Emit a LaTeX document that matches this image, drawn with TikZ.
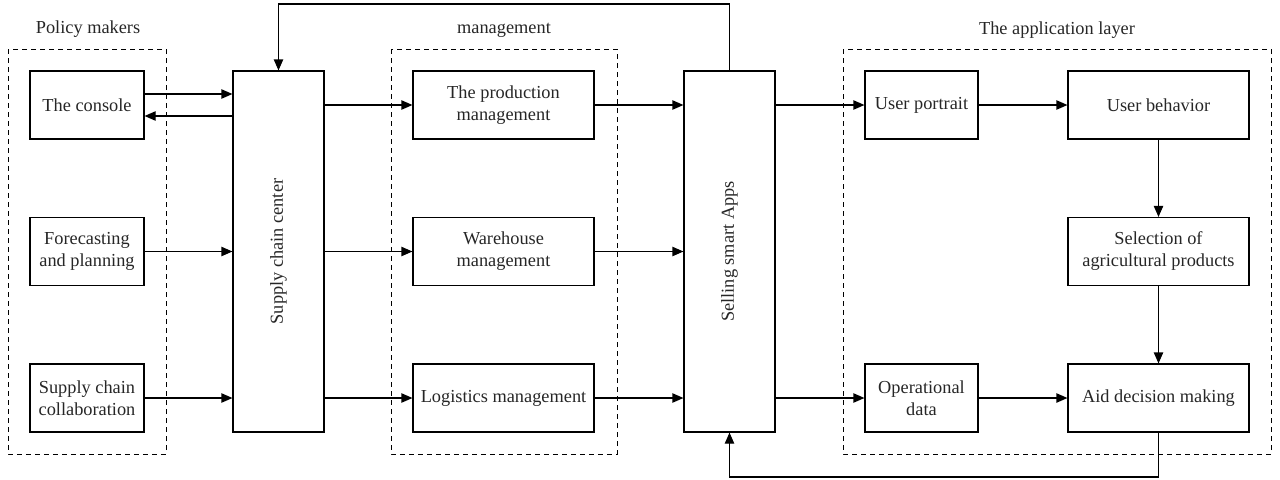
\documentclass[tikz,border=0pt]{standalone}
\usepackage{fontspec}
\setmainfont{Liberation Serif}
\usetikzlibrary{arrows.meta}

\begin{document}
\begin{tikzpicture}[x=0.6pt,y=-0.6pt,
  font=\fontsize{11}{13.2}\selectfont,
  box/.style={draw,line width=0.7pt,align=center,inner sep=1pt,text=black!85},
  group/.style={draw,dashed,dash pattern=on 3pt off 2.4pt,line width=0.6pt},
  title/.style={text=black!85},
  arr/.style={-{Triangle[length=6.6pt,width=5.6pt]},line width=0.7pt}]

\useasboundingbox (0,0) rectangle (1280,479);

% Groupes
\draw[group] (8,49) rectangle (166,454);
\draw[group] (391,49) rectangle (617,454);
\draw[group] (843,49) rectangle (1271,454);

\node[title] (tpolicy) at (88,29) {Policy makers};
\node[title] (tmanage) at (504,30) {management};
\node[title] (tapp) at (1057,30) {The application layer};

% Policy makers
\node[box,minimum width=68.4pt,minimum height=40.8pt]
(console)
at (87,105)
{The console};

\node[box,minimum width=68.4pt,minimum height=40.8pt]
(forecast)
at (87,251.5)
{Forecasting\\and planning};

\node[box,minimum width=68.4pt,minimum height=40.8pt]
(collab)
at (87,398)
{Supply chain\\collaboration};

% Centres (rotated: north = left side, south = right side)
\node[box,minimum width=216.6pt,minimum height=54.6pt,rotate=90]
(center)
at (278.5,251.5)
{Supply chain center};

\node[box,minimum width=216.6pt,minimum height=54.6pt,rotate=90]
(selling)
at (729.5,251.5)
{Selling smart Apps};

% Management
\node[box,minimum width=108.6pt,minimum height=40.8pt]
(production)
at (503.5,105)
{The production\\management};

\node[box,minimum width=108.6pt,minimum height=40.8pt]
(warehouse)
at (503.5,251.5)
{Warehouse\\management};

\node[box,minimum width=108.6pt,minimum height=40.8pt]
(logistics)
at (503.5,398)
{Logistics management};

% Application layer
\node[box,minimum width=67.8pt,minimum height=40.8pt]
(portrait)
at (921.5,105)
{User portrait};

\node[box,minimum width=67.8pt,minimum height=40.8pt]
(operational)
at (921.5,398)
{Operational\\data};

\node[box,minimum width=108.6pt,minimum height=40.8pt]
(behavior)
at (1158.5,105)
{User behavior};

\node[box,minimum width=108.6pt,minimum height=40.8pt]
(selection)
at (1158.5,251.5)
{Selection of\\agricultural products};

\node[box,minimum width=108.6pt,minimum height=40.8pt]
(aid)
at (1158.5,398)
{Aid decision making};

\coordinate (topline) at (0,4);
\coordinate (botline) at (0,477);

% Liaisons
\draw[arr] ([yshift=6.6pt]console.east) -- ([yshift=6.6pt]console.east -| center.north);
\draw[arr] ([yshift=-6.6pt]console.east -| center.north) -- ([yshift=-6.6pt]console.east);
\draw[arr] (forecast.east) -- (forecast.east -| center.north);
\draw[arr] (collab.east) -- (collab.east -| center.north);

\draw[arr] (production.west -| center.south) -- (production.west);
\draw[arr] (warehouse.west -| center.south) -- (warehouse.west);
\draw[arr] (logistics.west -| center.south) -- (logistics.west);

\draw[arr] (production.east) -- (production.east -| selling.north);
\draw[arr] (warehouse.east) -- (warehouse.east -| selling.north);
\draw[arr] (logistics.east) -- (logistics.east -| selling.north);

\draw[arr] (portrait.west -| selling.south) -- (portrait.west);
\draw[arr] (operational.west -| selling.south) -- (operational.west);

\draw[arr] (portrait) -- (behavior);
\draw[arr] (behavior) -- (selection);
\draw[arr] (selection) -- (aid);
\draw[arr] (operational) -- (aid);

\draw[arr] (selling.east) -- (selling.east |- topline) -- (center.east |- topline) -- (center.east);
\draw[arr] (aid.south) -- (aid.south |- botline) -- (selling.west |- botline) -- (selling.west);

\end{tikzpicture}
\end{document}
